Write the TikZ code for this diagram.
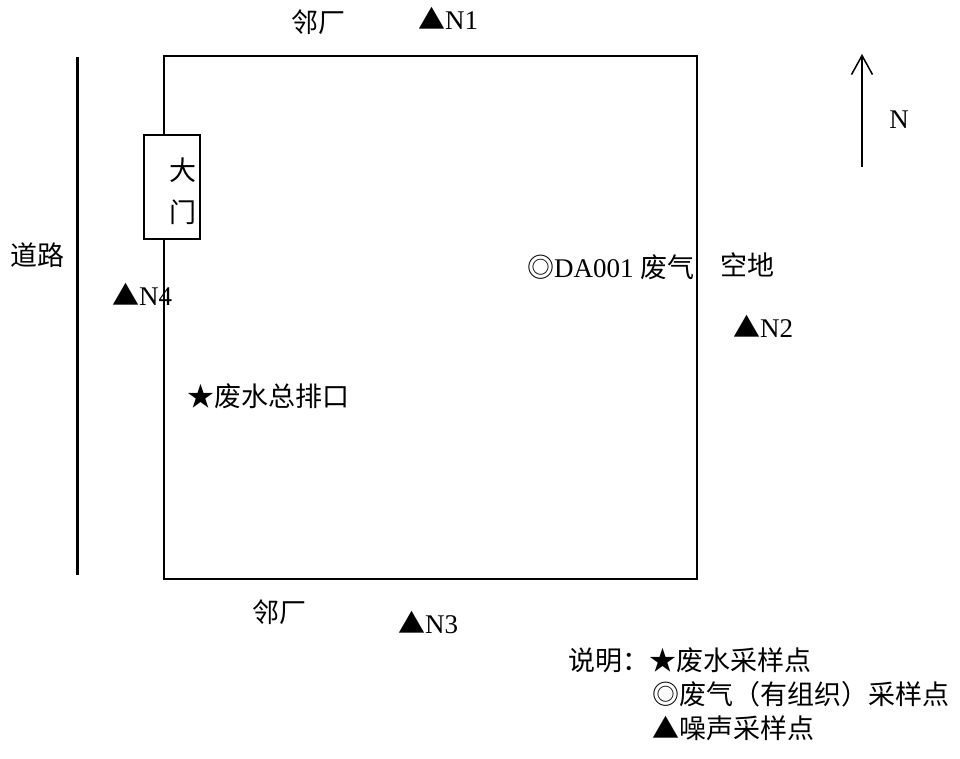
\documentclass[tikz,border=0pt]{standalone}
\usepackage{fontspec}
\setmainfont{Liberation Serif}
\newfontfamily\cjk{Noto Sans CJK SC}
\usetikzlibrary{arrows.meta}
\begin{document}
\begin{tikzpicture}[x=1pt,y=-1pt,
  lbl/.style={inner sep=0pt, anchor=west, font=\fontsize{27}{32}\selectfont},
  ctr/.style={inner sep=0pt, font=\fontsize{27}{32}\selectfont},
  wall/.style={line width=1.5pt}]
\useasboundingbox (0,0) rectangle (960,758);
% plant boundary
\draw[wall] (164,56) rectangle (697,579);
% road
\coordinate (r1) at (77,57);
\coordinate (r2) at (77,575);
\draw[line width=3pt] (r1) -- (r2);
% gate
\node[draw, wall, fill=white, minimum width=56pt, minimum height=104pt, inner sep=0pt] (gate) at (172,187) {};
\node[ctr] (gate1) at (183,170) {\cjk 大};
\node[ctr] (gate2) at (183,212) {\cjk 门};
% labels
\node[lbl] (nbtop) at (291,22) {\cjk 邻厂};
\node[lbl] (n1) at (418,18) {{\cjk ▲}N1};
\node[lbl] (road) at (10,255) {\cjk 道路};
\node[lbl] (n4) at (112,294) {{\cjk ▲}N4};
\node[lbl] (da) at (527,267) {{\cjk ◎}DA001 {\cjk 废气}};
\node[lbl] (empty) at (720,265) {\cjk 空地};
\node[lbl] (n2) at (733,326) {{\cjk ▲}N2};
\node[lbl] (ww) at (187,396) {\cjk ★废水总排口};
\node[lbl] (nbbot) at (252,612) {\cjk 邻厂};
\node[lbl] (n3) at (398,622) {{\cjk ▲}N3};
% legend
\node[lbl] (leg1) at (568,660) {\cjk 说明：★废水采样点};
\node[lbl] (leg2) at (652,694) {\cjk ◎废气（有组织）采样点};
\node[lbl] (leg3) at (652,728) {\cjk ▲噪声采样点};
% north arrow
\coordinate (ns) at (862,167);
\coordinate (nn) at (862,54);
\draw[line width=1.5pt, -{Straight Barb[length=19pt,width=21pt]}] (ns) -- (nn);
\node[ctr] (north) at (899,120) {N};
\end{tikzpicture}
\end{document}
